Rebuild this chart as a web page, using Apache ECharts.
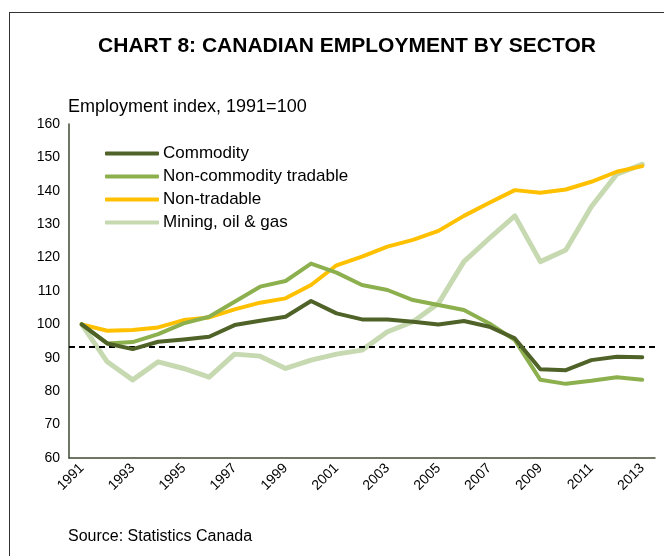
<!DOCTYPE html>
<html>
<head>
<meta charset="utf-8">
<script src="https://cdn.jsdelivr.net/npm/echarts@6/dist/echarts.min.js"></script>
<style>
  body { margin: 0; background: #fff; }
  .frame { position: absolute; left: 9px; top: 12px; width: 700px; height: 600px; border-left: 1px solid #333; border-top: 1px solid #333; }
  .chart-dom { position: absolute; left: 0; top: 0; width: 664px; height: 556px; }
</style>
</head>
<body>
<div class="frame"></div>
<div class="chart-dom" id="chartDom"></div>
<script>
  // data
  const years = ['1991','1992','1993','1994','1995','1996','1997','1998','1999','2000','2001','2002',
    '2003','2004','2005','2006','2007','2008','2009','2010','2011','2012','2013'];
  const commodity = [100, 94.3, 92.6, 94.8, 95.5, 96.3, 99.8, 101.1, 102.3, 107, 103.3, 101.5,
    101.5, 100.8, 100, 101, 99.3, 95.8, 86.6, 86.3, 89.3, 90.3, 90.2];
  const nonCommodityTradable = [100, 94.3, 94.7, 97.1, 100.3, 102.3, 106.8, 111.3, 113, 118.2, 115.5, 111.8,
    110.3, 107.3, 105.8, 104.3, 100.3, 95.3, 83.4, 82.2, 83.1, 84.2, 83.4];
  const nonTradable = [100, 98.1, 98.3, 99.1, 101.3, 102.1, 104.5, 106.5, 107.8, 111.8, 117.7, 120.3,
    123.3, 125.3, 128, 132.5, 136.4, 140.2, 139.4, 140.4, 142.7, 145.7, 147.4];
  const miningOilGas = [100, 88.8, 83.4, 88.8, 86.8, 84.2, 91.1, 90.5, 86.8, 89.3, 91.1, 92.3,
    97.8, 100.8, 106.3, 118.8, 125.8, 132.5, 118.8, 122.3, 135.2, 145, 147.9];
  const refLevel = 93.3;

  const colors = ['#4F6228', '#8DB04F', '#FFC000', '#C6D9B1'];
  const font = 'Liberation Sans, Arial, sans-serif';

  const myChart = echarts.init(document.getElementById('chartDom'));

  const mkLine = (name, data, color, width, z) => ({
    name: name,
    type: 'line',
    data: data,
    symbol: 'none',
    z: z,
    lineStyle: { color: color, width: width, cap: 'round', join: 'round' },
    itemStyle: { color: color }
  });

  const series = [
    mkLine('Mining, oil & gas', miningOilGas, colors[3], 5, 2),
    mkLine('Non-tradable', nonTradable, colors[2], 4, 3),
    mkLine('Non-commodity tradable', nonCommodityTradable, colors[1], 4, 4),
    mkLine('Commodity', commodity, colors[0], 4, 5)
  ];
  // dashed reference line
  series[0].markLine = {
    silent: true,
    symbol: 'none',
    label: { show: false },
    lineStyle: { color: '#000', type: [6, 4], width: 2 },
    data: [{ yAxis: refLevel }]
  };

  const option = {
    animation: false,
    title: [
      {
        text: 'CHART 8: CANADIAN EMPLOYMENT BY SECTOR',
        left: 342, top: 31, textAlign: 'center',
        textStyle: { fontFamily: font, fontSize: 21, fontWeight: 'bold', color: '#000' }
      },
      {
        text: 'Employment index, 1991=100',
        left: 63, top: 93,
        textStyle: { fontFamily: font, fontSize: 18, fontWeight: 'normal', color: '#000' }
      },
      {
        text: 'Source: Statistics Canada',
        left: 63, top: 524,
        textStyle: { fontFamily: font, fontSize: 16, fontWeight: 'normal', color: '#000' }
      }
    ],
    legend: {
      orient: 'vertical',
      left: 100, top: 140,
      itemWidth: 54, itemHeight: 4, itemGap: 6,
      icon: 'roundRect',
      data: ['Commodity', 'Non-commodity tradable', 'Non-tradable', 'Mining, oil & gas'],
      textStyle: { fontFamily: font, fontSize: 17, color: '#000', padding: [0, 0, 0, -1] }
    },
    grid: { left: 69, right: 9, top: 124, bottom: 98, containLabel: false },
    xAxis: {
      type: 'category',
      data: years,
      boundaryGap: true,
      axisLine: { lineStyle: { color: '#3f4a35', width: 1.5 } },
      axisTick: { show: false },
      axisLabel: {
        interval: 1, rotate: 45, margin: 8,
        fontFamily: font, fontSize: 14, color: '#000'
      }
    },
    yAxis: {
      type: 'value',
      min: 60, max: 160, interval: 10,
      axisLine: { show: true, lineStyle: { color: '#3f4a35', width: 1.5 } },
      axisTick: { show: false },
      splitLine: { show: false },
      axisLabel: { fontFamily: font, fontSize: 14, color: '#000', margin: 9 }
    },
    series: series
  };

  myChart.setOption(option);
</script>
</body>
</html>
